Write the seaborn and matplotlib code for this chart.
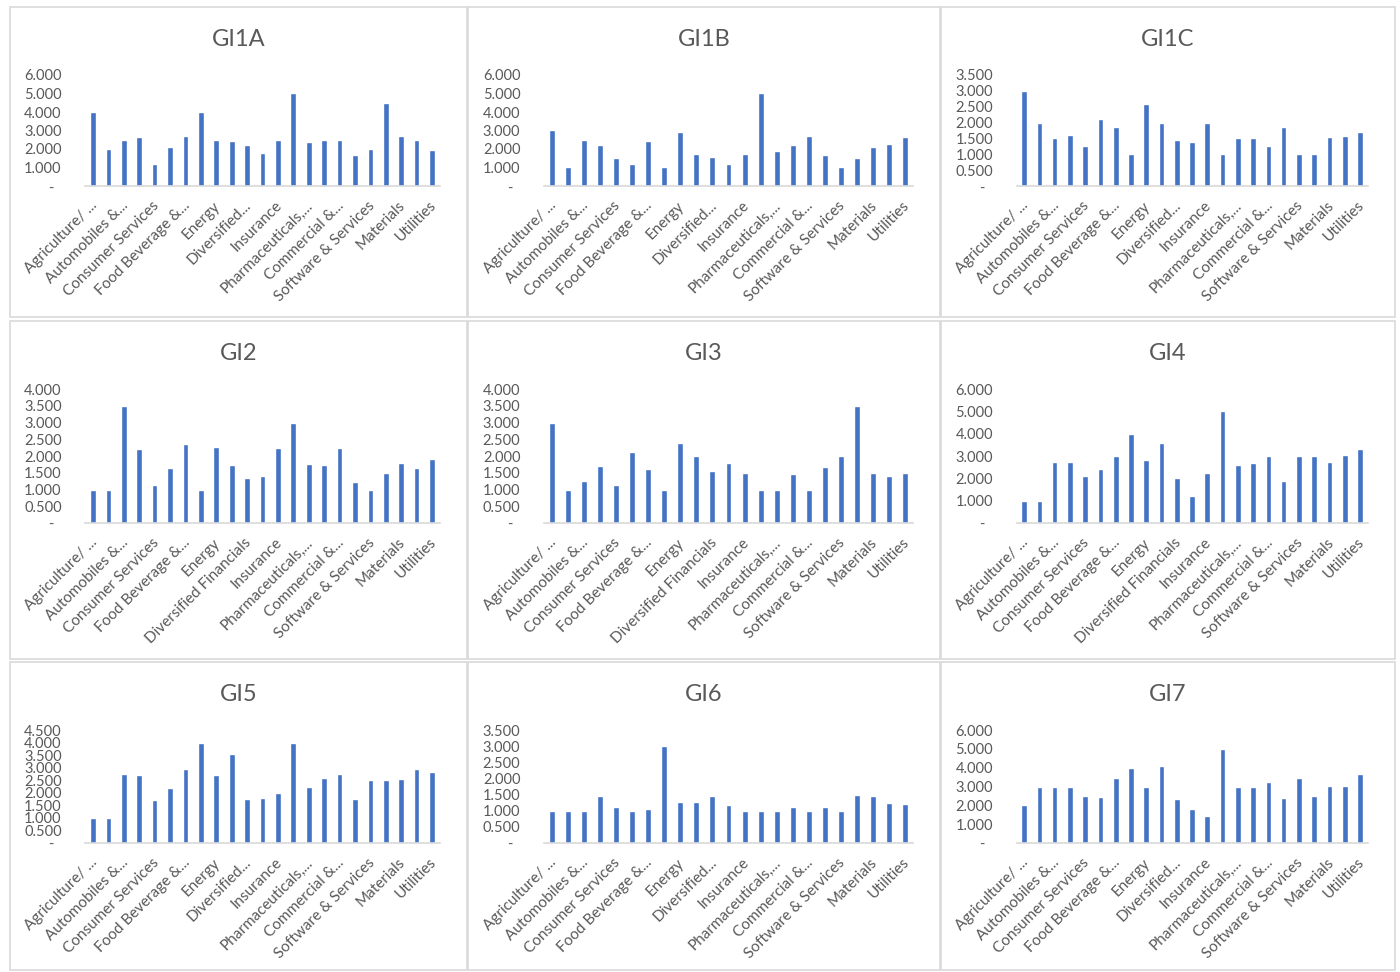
import numpy as np
import pandas as pd
import seaborn as sns
import matplotlib.pyplot as plt
from matplotlib.patches import Rectangle
from matplotlib.ticker import FuncFormatter
from matplotlib.transforms import ScaledTranslation

# 1. Données
sectors = [
    "Agriculture/ ...", "Banks", "Automobiles &...", "Capital Goods",
    "Consumer Services", "Consumer Durables", "Food Beverage &...", "Food Retailing",
    "Energy", "Health Care", "Diversified...", "Household", "Insurance", "Media",
    "Pharmaceuticals,...", "Real Estate", "Commercial &...", "Retailing",
    "Software & Services", "Technology", "Materials", "Transportation", "Utilities",
]
panels = ["GI1A", "GI1B", "GI1C", "GI2", "GI3", "GI4", "GI5", "GI6", "GI7"]
panels_full_div = ["GI2", "GI3", "GI4"]   # "Diversified Financials" affiché en entier

gi1a = [4.0, 2.0, 2.5, 2.67, 1.2, 2.1, 2.7, 4.0, 2.5, 2.45, 2.2, 1.8, 2.5, 5.0, 2.4, 2.5, 2.5, 1.67, 2.0, 4.5, 2.7, 2.5, 1.95]
gi1b = [3.0, 1.0, 2.5, 2.2, 1.5, 1.2, 2.45, 1.0, 2.9, 1.75, 1.57, 1.2, 1.75, 5.0, 1.9, 2.2, 2.7, 1.67, 1.0, 1.5, 2.1, 2.25, 2.67]
gi1c = [3.0, 2.0, 1.5, 1.6, 1.25, 2.1, 1.85, 1.0, 2.6, 2.0, 1.45, 1.4, 2.0, 1.0, 1.5, 1.52, 1.25, 1.85, 1.0, 1.0, 1.55, 1.58, 1.7]
gi2 = [1.0, 1.0, 3.5, 2.22, 1.13, 1.65, 2.35, 1.0, 2.28, 1.72, 1.35, 1.4, 2.25, 3.0, 1.75, 1.72, 2.25, 1.22, 1.0, 1.5, 1.8, 1.65, 1.9]
gi3 = [3.0, 1.0, 1.25, 1.7, 1.12, 2.12, 1.6, 1.0, 2.4, 2.0, 1.55, 1.8, 1.5, 1.0, 1.0, 1.45, 1.0, 1.67, 2.0, 3.5, 1.5, 1.4, 1.5]
gi4 = [1.0, 1.0, 2.75, 2.75, 2.1, 2.43, 3.0, 4.0, 2.8, 3.57, 2.0, 1.2, 2.25, 5.0, 2.6, 2.7, 3.0, 1.9, 3.0, 3.0, 2.75, 3.03, 3.3]
gi5 = [1.0, 1.0, 2.75, 2.7, 1.72, 2.2, 2.95, 4.0, 2.7, 3.55, 1.77, 1.8, 2.0, 4.0, 2.25, 2.6, 2.75, 1.77, 2.5, 2.5, 2.53, 2.95, 2.83]
gi6 = [1.0, 1.0, 1.0, 1.45, 1.12, 1.0, 1.06, 3.0, 1.27, 1.27, 1.45, 1.18, 1.0, 1.0, 1.0, 1.1, 1.0, 1.1, 1.0, 1.5, 1.45, 1.25, 1.2]
gi7 = [2.0, 3.0, 3.0, 3.0, 2.5, 2.45, 3.45, 4.0, 3.0, 4.1, 2.33, 1.8, 1.45, 5.0, 3.0, 3.0, 3.25, 2.4, 3.45, 2.5, 3.05, 3.05, 3.67]
valeurs = [gi1a, gi1b, gi1c, gi2, gi3, gi4, gi5, gi6, gi7]

y_max = [6.0, 6.0, 3.5, 4.0, 4.0, 6.0, 4.5, 3.5, 6.0]
y_step = [1.0, 1.0, 0.5, 0.5, 0.5, 1.0, 0.5, 0.5, 1.0]

# 2. Style
sns.set_theme(style="white")
plt.rcParams['font.family'] = ['Lato', 'DejaVu Sans']
gris = "#595959"
bleu = "#4472C4"

W, H = 1400, 972
fig = plt.figure(figsize=(W / 100, H / 100), dpi=100)
fig.patch.set_facecolor("white")

# positions en pixels (cadres et zones de tracé)
col_box = [(10, 467), (468, 940), (941, 1395)]
row_box = [(7, 317), (321, 659), (662, 970)]
col_axis = [(85.3, 439.7), (544, 913), (1016.5, 1367.6)]
row_axis = [(75, 186), (389, 523), (730, 843)]


def fx(px):
    return px / W


def fy(py):
    return 1 - py / H


fmt = FuncFormatter(lambda v, p: "-  " if abs(v) < 1e-9 else f"{v:.3f}")
decalage = ScaledTranslation(-0.03, 0, fig.dpi_scale_trans)

# 3. Un graphique par indicateur
for i, name in enumerate(panels):
    r, c = divmod(i, 3)
    bx0, bx1 = col_box[c]
    by0, by1 = row_box[r]
    fig.add_artist(Rectangle((fx(bx0), fy(by1)), (bx1 - bx0) / W, (by1 - by0) / H,
                             transform=fig.transFigure, facecolor="white",
                             edgecolor="#D9D9D9", lw=1.2, zorder=0))

    ax0, ax1 = col_axis[c]
    ay0, ay1 = row_axis[r]
    ax = fig.add_axes([fx(ax0), fy(ay1), (ax1 - ax0) / W, (ay1 - ay0) / H])
    ax.set_facecolor("none")

    df = pd.DataFrame({"secteur": sectors, "score": valeurs[i]})
    sns.barplot(data=df, x="secteur", y="score", color=bleu, saturation=1,
                width=0.37, ax=ax)

    ax.set_xlim(-0.5, len(sectors) - 0.5)
    ax.set_ylim(0, y_max[i])
    ax.set_yticks(np.arange(0, y_max[i] + y_step[i] / 2, y_step[i]))
    ax.yaxis.set_major_formatter(fmt)

    labels = list(sectors)
    if name in panels_full_div:
        labels[10] = "Diversified Financials"
    pos = list(range(0, len(sectors), 2))
    ax.set_xticks(pos)
    ax.set_xticklabels([labels[p] for p in pos], rotation=45, ha="right",
                       va="top", rotation_mode="anchor")

    ax.tick_params(axis="y", length=0, pad=17, labelsize=10.5, labelcolor=gris)
    ax.tick_params(axis="x", length=0, pad=9, labelsize=11, labelcolor=gris)
    for lab in ax.get_xticklabels():
        lab.set_transform(lab.get_transform() + decalage)
    ax.set_xlabel("")
    ax.set_ylabel("")
    for s in ["left", "top", "right"]:
        ax.spines[s].set_visible(False)
    ax.spines["bottom"].set_color("#D9D9D9")
    ax.spines["bottom"].set_linewidth(1.2)

    fig.text(fx((bx0 + bx1) / 2), fy(by0 + 32), name, ha="center", va="center",
             fontsize=17, color=gris)

plt.savefig("out.png", dpi=100, facecolor="white")
